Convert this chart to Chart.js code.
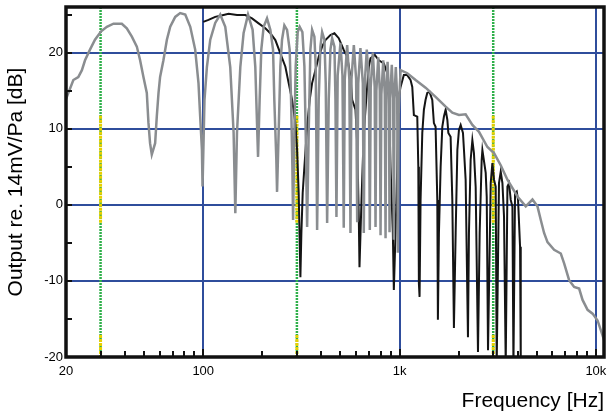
<!DOCTYPE html>
<html>
<head>
<meta charset="utf-8">
<script src="https://cdn.jsdelivr.net/npm/chart.js@4.4.1/dist/chart.umd.min.js"></script>
<style>
  html, body { margin: 0; padding: 0; background: #fff; }
  canvas { display: block; }
</style>
</head>
<body>
<canvas id="fr" width="610" height="416"></canvas>
<script>
// frequency response (Hz / dB)
const GRAY_FREQ = [
  20.0, 21.8, 23.1, 24.1, 25.0, 26.5, 28.1, 30.2, 32.3, 34.9, 38.5, 40.8, 43.3, 45.9, 47.7, 49.6, 51.6, 52.6,
  53.6, 54.7, 56.9, 58.0, 59.2, 60.3, 62.7, 65.3, 67.9, 72.0, 76.3, 81.0, 85.9, 91.0, 94.6, 96.5, 98.5, 99.2,
  101.5, 104.4, 108.6, 115.1, 122.1, 129.5, 137.3, 142.8, 145.7, 148.6, 154.5, 160.6, 169.1, 178.5, 184.2, 190.2,
  193.8, 197.6, 203.1, 211.3, 219.7, 226.8, 230.2, 235.7, 237.7,
  242.2, 247.1, 252.0, 259.0, 267.3, 275.6, 280.2, 284.5, 286.9,
  291.3, 295.8, 302.8, 310.0, 320.0, 327.6, 332.6, 338.2,
  344.5, 351.5, 358.6, 368.4, 374.1, 380.3,
  387.5, 395.3, 403.3, 414.3, 420.7, 427.7,
  435.8, 444.6, 453.5, 466.0, 471.5, 477.1,
  484, 500, 512, 519.7,
  526, 541, 555, 562.3,
  569, 585, 601, 608.5,
  616, 632, 650, 657.5,
  665, 681, 698, 705.5,
  713, 731, 747, 754.5,
  762, 779, 793, 800.3,
  808, 826, 841, 848.6,
  855, 869, 883, 889.2,
  896, 913, 928, 935.2,
  942, 957, 973, 980.2,
  990, 1012, 1095, 1207, 1357, 1526, 1717, 1857, 2007, 2171, 2349, 2539, 2802, 3028, 3276, 3544, 3986, 4394,
  4754, 5041, 5241, 5448, 5670, 6128, 6628, 6892, 7308, 7750, 8218, 8553, 9073, 9622, 10202, 10605, 11022, 11246
];
const GRAY_DB = [
  13.9, 16.4, 16.8, 17.7, 19.0, 20.4, 21.7, 22.8, 23.4, 23.8, 23.8, 23.2, 22.1, 20.8, 19.0, 16.8, 14.7, 10.8,
  8.1, 6.6, 8.1, 11.6, 14.7, 16.8, 19.0, 21.7, 23.4, 24.7, 25.2, 25.0, 23.4, 20.4, 16.0, 11.6, 7.2, 2.4,
  13.8, 18.1, 21.7, 23.9, 25.0, 23.4, 18.1, 9.5, -1.1, 9.5, 18.1, 22.6, 25.0, 23.0, 18.1, 6.3,
  13.8, 20.4, 23.4, 24.5, 23.0, 20.4, 13.8, 5.9, 1.7,
  9.5, 18.2, 21.7, 23.6, 23.0, 20.4, 13.8, 5.0, -2.0,
  9.5, 18.2, 22.7, 23.4, 22.7, 18.2, 9.5, -2.9,
  9.5, 20.4, 23.0, 22.1, 18.2, -3.3,
  13.8, 20.8, 22.7, 21.7, 16.0, -2.4,
  13.8, 20.4, 21.9, 20.8, 13.8, -1.6,
  17, 21.3, 17, -3.0,
  16.5, 21.0, 16.5, -3.7,
  16.5, 21.0, 16.5, -2.3,
  16, 20.6, 16, -3.7,
  16, 20.4, 16, -3.3,
  15.5, 20.0, 15.5, -2.9,
  15, 19.4, 15, -4.0,
  14.5, 19.0, 14.5, -4.4,
  14.5, 18.8, 14.5, -3.6,
  14, 18.4, 14, -4.6,
  14, 18.1, 14, -6.3,
  12, 17.7, 17.3, 16.4, 15.4, 14.2, 12.9, 12.1, 11.8, 11.9, 10.5, 9.6, 7.6, 6.8, 5.2, 3.3, 1.1, -0.2,
  0.7, -0.2, -2.0, -3.7, -4.9, -5.9, -6.4, -7.7, -9.9, -10.8, -11.0, -12.5, -13.8, -14.3, -15.2, -16.5, -17.8, -18.8
];

const BLACK_FREQ = [
  100, 106.4, 115.1, 126.9, 134.6, 148.6, 163.8, 177.2, 191.5, 207.2,
  219.7, 233.0, 247.1, 262.1, 272.4, 283.6, 294.7, 300.7, 306.4, 312.6,
  316.2, 321.1, 327.6, 338.2, 348.6, 358.6, 372.8, 387.5, 403.3, 419.3,
  444.6, 466.0, 490.1, 519.7, 541.1, 562.3, 573.7, 596.4, 608.5, 620.0,
  625.1, 640.0, 657.5, 676.2, 684.2, 697.2, 711.2, 748.2, 784.3, 831.7,
  865.5, 882.0, 899.8, 924.4, 935.2, 954.1, 973.4, 991.8, 1011.8, 1051.7,
  1094.6, 1138, 1161, 1183, 1231, 1246, 1254.5, 1264.7, 1279.7, 1305.6,
  1330.5, 1357, 1384, 1422, 1468, 1496, 1526, 1557, 1568, 1587,
  1619, 1651, 1683, 1717, 1752, 1772, 1820, 1857, 1892, 1931,
  1970, 2007, 2048, 2104, 2129, 2171, 2231, 2257, 2302, 2349,
  2393, 2442, 2509, 2559, 2620, 2642, 2747, 2780, 2822, 2913,
  2971, 3028, 3089, 3125, 3210, 3276, 3342, 3405, 3474, 3544,
  3611, 3684, 3758, 3803, 3875, 3953, 4014, 4110, 4143
];
const BLACK_DB = [
  24.05, 24.3, 24.7, 24.95, 25.1, 24.95, 24.95, 24.5, 23.85, 23.2,
  22.55, 21.65, 19.9, 18.15, 16.0, 13.8, 10.75, 7.2, 1.55, -9.5,
  -3.7, 1.55, 5.0, 10.25, 13.8, 16.0, 17.7, 19.45, 20.8, 21.65,
  22.3, 22.55, 21.9, 20.35, 19.45, 16.85, 13.8, 12.5, 8.1, -1.6,
  -8.2, 0.6, 9.45, 13.8, 15.5, 18.15, 19.25, 19.7, 19.0, 18.6,
  17.3, 13.8, 5.0, -3.7, -11.2, -3.7, 5.0, 14.2, 15.5, 17.05,
  17.05, 16.4, 15.5, 11.8, 11.6, 5.0, -10.3, -12.1, 0.65, 9.45,
  12.5, 13.8, 14.7, 14.85, 13.8, 10.75, 10.25, 0.65, -15.1, -3.7,
  5.0, 10.25, 11.6, 12.5, 11.15, 9.45, 8.95, 0.65, -16.2, -3.7,
  7.2, 9.85, 10.5, 9.45, 7.2, 3.3, -17.4, -3.7, 5.9, 8.5,
  6.8, 2.35, -19.35, -3.7, 5.9, 7.2, 4.2, 1.05, -19.1, 2.85,
  5.5, 3.3, 2.4, -21, 2.85, 4.35, 2.85, -1.55, -21, 2.4,
  2.85, 0.65, -0.25, -21, 1.55, 1.75, 0.65, -5.5, -21
];

// marker lines (green with yellow stretches)
const MARKER_FREQ = [30, 300, 3000];
const GREEN_SPAN = [-20, 26];
const YELLOW_SPANS = [[11.7, -2.5], [-17.1, -20]];

const X_TICKS = [20, 100, 1000, 10000];
const X_TICK_LABELS = ['20', '100', '1k', '10k'];
const X_MINOR = [30, 40, 50, 60, 70, 80, 90, 200, 300, 400, 500, 600, 700, 800, 900,
  2000, 3000, 4000, 5000, 6000, 7000, 8000, 9000];
const Y_TICKS = [-20, -10, 0, 10, 20];
const Y_TICK_LABELS = ['-20', '-10', '0', '10', '20'];
const Y_MINOR = [25, 15, 5, -5, -15];

const FONT = "'Liberation Sans', Arial, sans-serif";
const GRID_BLUE = '#2f4d9c';
const NONE = 'rgba(0,0,0,0)';

const pairs = (xs, ys) => xs.map((f, i) => ({ x: f, y: ys[i] }));
const vlines = (spans) => MARKER_FREQ.flatMap(f =>
  spans.flatMap(s => [{ x: f, y: s[0] }, { x: f, y: s[1] }, { x: f, y: null }]));

// frame + inward ticks
const framePlugin = {
  id: 'frame',
  afterDatasetsDraw(chart) {
    const { ctx, chartArea: a, scales: { x, y } } = chart;
    ctx.save();
    ctx.strokeStyle = '#111';
    ctx.lineWidth = 2;
    ctx.beginPath();
    X_MINOR.forEach(v => {
      const px = Math.round(x.getPixelForValue(v));
      ctx.moveTo(px, a.bottom); ctx.lineTo(px, a.bottom - 6);
    });
    X_TICKS.forEach(v => {
      const px = Math.round(x.getPixelForValue(v));
      ctx.moveTo(px, a.bottom); ctx.lineTo(px, a.bottom - 8);
    });
    Y_MINOR.concat(Y_TICKS).forEach(v => {
      const py = Math.round(y.getPixelForValue(v));
      ctx.moveTo(a.left, py); ctx.lineTo(a.left + 6, py);
    });
    ctx.stroke();
    ctx.lineWidth = 3.5;
    ctx.strokeRect(a.left, a.top, a.right - a.left, a.bottom - a.top);
    ctx.restore();
  }
};

new Chart(document.getElementById('fr'), {
  type: 'line',
  data: {
    datasets: [
      {
        data: pairs(GRAY_FREQ, GRAY_DB),
        borderColor: '#8a8d90', borderWidth: 2.5, pointRadius: 0, tension: 0, order: 0
      },
      {
        data: pairs(BLACK_FREQ, BLACK_DB),
        borderColor: '#141414', borderWidth: 2, pointRadius: 0, tension: 0, order: 1
      },
      {
        data: vlines(YELLOW_SPANS),
        borderColor: '#e8d000', borderWidth: 3, borderDash: [3, 1], pointRadius: 0, order: 2
      },
      {
        data: vlines([GREEN_SPAN]),
        borderColor: '#2fb04a', borderWidth: 2.5, borderDash: [2, 1], pointRadius: 0, order: 3
      }
    ]
  },
  options: {
    responsive: false,
    animation: false,
    devicePixelRatio: 1,
    layout: { padding: { left: 0, right: 6, top: 7, bottom: 0 } },
    plugins: { legend: { display: false }, tooltip: { enabled: false } },
    scales: {
      x: {
        type: 'logarithmic', min: 20, max: 11000,
        afterBuildTicks: s => { s.ticks = X_TICKS.map(v => ({ value: v })); },
        afterFit: s => { s.height = 59; s.paddingLeft = 0; s.paddingRight = 0; },
        ticks: {
          autoSkip: false, maxRotation: 0, padding: 7, color: '#000',
          font: { family: FONT, size: 13 },
          callback: v => X_TICK_LABELS[X_TICKS.indexOf(v)]
        },
        grid: {
          drawTicks: false, lineWidth: 2,
          color: c => (c.tick && c.tick.value === 20) ? NONE : GRID_BLUE
        },
        border: { display: false },
        title: {
          display: true, text: 'Frequency [Hz]', align: 'end', color: '#000',
          font: { family: FONT, size: 21 }, padding: { top: 0, bottom: 2 }
        }
      },
      y: {
        min: -20, max: 26,
        afterBuildTicks: s => { s.ticks = Y_TICKS.map(v => ({ value: v })); },
        afterFit: s => { s.width = 66; s.paddingTop = 0; s.paddingBottom = 0; },
        ticks: {
          padding: 3, color: '#000',
          font: { family: FONT, size: 13 },
          callback: v => Y_TICK_LABELS[Y_TICKS.indexOf(v)]
        },
        grid: {
          drawTicks: false, lineWidth: 2,
          color: c => (c.tick && c.tick.value === -20) ? NONE : GRID_BLUE
        },
        border: { display: false },
        title: {
          display: true, text: 'Output re. 14mV/Pa [dB]', color: '#000',
          font: { family: FONT, size: 21 }, padding: { top: 4, bottom: 0 }
        }
      }
    }
  },
  plugins: [framePlugin]
});
</script>
</body>
</html>
